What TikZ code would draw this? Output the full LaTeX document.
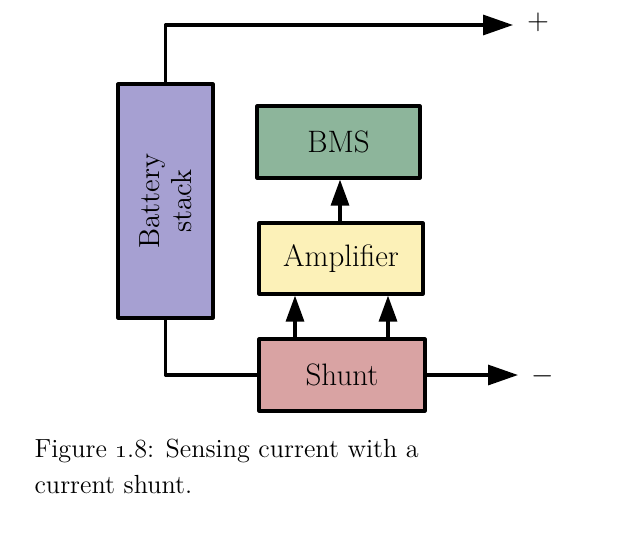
\documentclass[tikz,border=0pt]{standalone}
\usetikzlibrary{arrows.meta, calc}
\tikzset{>={Triangle[length=15pt, width=10pt]}}
\tikzset{every text node part/.style={align=center}}
\definecolor{batfill}{HTML}{A6A0D2}
\definecolor{bmsfill}{HTML}{8DB59B}
\definecolor{ampfill}{HTML}{FCF1B8}
\definecolor{shuntfill}{HTML}{D9A3A3}
\tikzset{block/.style={draw, line width=1.6pt, inner sep=0pt, font=\fontsize{15.5}{17}\selectfont}}
\tikzset{captext/.style={anchor=base west, inner sep=0pt, font=\fontsize{13.1}{18}\selectfont}}

\begin{document}
\begin{tikzpicture}[x=0.5pt, y=-0.5pt, line width=1.6pt, line cap=round, line join=round]
	\useasboundingbox (0,0) rectangle (641,542);

	% Blocks
	\node[block, fill=batfill, minimum width=47.5pt, minimum height=117pt] (bat) at (165.5,201) {};
	\node[rotate=90, font=\fontsize{14.5}{16}\selectfont] (batlabel) at (bat.center) {Battery\\stack};
	\node[block, fill=bmsfill, minimum width=81.5pt, minimum height=36pt] (bms) at (338.5,142) {BMS};
	\node[block, fill=ampfill, minimum width=82pt, minimum height=35.5pt] (amp) at (341,258.5) {Amplifier};
	\node[block, fill=shuntfill, minimum width=83pt, minimum height=36pt] (shunt) at (342,375) {Shunt};

	% Terminals
	\coordinate (plus) at (513,25);
	\coordinate (minus) at (518,375);
	\node[font=\Large] (pluslabel) at (538,22) {$+$};
	\node[font=\Large] (minuslabel) at (543,376) {$-$};

	% Wires
	\draw[->] (bat.north) |- (plus);
	\draw (bat.south) |- (shunt.west);
	\draw[->] (shunt.east) -- (minus);

	% Sense lines
	\draw[-{Triangle[length=13pt, width=9pt]}] ([xshift=-0.5pt]amp.north) -- ([xshift=-0.5pt]amp.north |- bms.south);
	\draw[-{Triangle[length=13pt, width=9pt]}] ([xshift=-23.5pt]shunt.north) -- ([xshift=-23.5pt]shunt.north |- amp.south);
	\draw[-{Triangle[length=13pt, width=9pt]}] ([xshift=23pt]shunt.north) -- ([xshift=23pt]shunt.north |- amp.south);

	% Caption
	\node[captext] (caption) at (33,457) {Figure \oldstylenums{1}.8: Sensing current with a};
	\node[captext] (captionb) at (33,493) {current shunt.};
\end{tikzpicture}
\end{document}
